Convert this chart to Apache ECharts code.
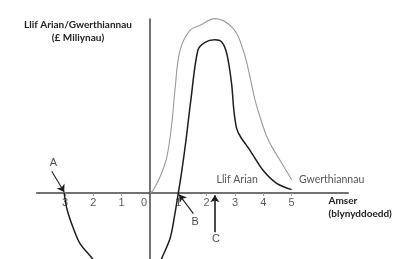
<!DOCTYPE html>
<html><head><meta charset="utf-8">
<script src="https://cdn.jsdelivr.net/npm/echarts@6/dist/echarts.min.js"></script>
<style>html,body{margin:0;padding:0;background:#fff}#c{width:404px;height:259px}</style>
</head><body><div id="c"></div>
<script>
// Sales (Gwerthiannau) curve: time (years), value (£ millions, arbitrary units)
const salesT = [0, 0.11, 0.35, 0.59, 0.77, 0.88, 1.06, 1.41, 1.77, 2.29, 2.94, 3.29, 3.53, 3.71, 3.94, 4.18, 4.59, 5.0];
const salesV = [0, 0.27, 1.6, 3.57, 6.97, 10.27, 14.27, 16.27, 16.77, 17.44, 16.44, 14.27, 11.6, 9.27, 7.1, 5.27, 3.27, 1.34];
// Cash flow (Llif Arian) curve, left part (before launch) and right part
const cashLeftT = [-3.03, -2.92, -2.68, -2.47, -2.06, -1.85];
const cashLeftV = [0, -1.73, -3.73, -5.06, -6.48, -7.3];
const cashRightT = [0.30, 0.41, 0.71, 0.88, 1.0, 1.11, 1.27, 1.44, 1.69, 1.94, 2.29, 2.53, 2.71, 2.88, 2.96, 3.06, 3.2, 3.53, 3.99, 4.47, 5.0];
const cashRightV = [-7.3, -6.56, -4.53, -2.06, 0, 1.97, 5.27, 9.27, 14.27, 15.07, 15.32, 15.1, 13.94, 10.94, 8.27, 6.44, 5.6, 4.27, 2.27, 0.97, 0.34];
// Axis tick labels
const tickValues = [-3, -2, -1, 0, 1, 2, 3, 4, 5];
const tickMarks = [-3, -2, -1, 1, 2, 3, 4, 5];
// Annotations (A, B, C)
const annLabels = ['A', 'B', 'C'];
const annFrom = [[-3.47, 2.17], [1.53, -2.06], [2.29, -3.93]];
const annTo = [[-3.03, 0.1], [1.03, -0.16], [2.29, -0.23]];
const annPos = [[-3.41, 3.04], [1.59, -2.9], [2.33, -4.61]];

const zip = (a, b) => a.map((v, i) => [v, b[i]]);

const chart = echarts.init(document.getElementById('c'), null, {renderer: 'canvas'});
chart.setOption({
  animation: false,
  grid: {left: 36.7, right: 55.7, top: 19, bottom: 0, containLabel: false, outerBoundsMode: 'none'},
  xAxis: {
    type: 'value', min: -4, max: 7,
    axisLine: {onZero: true, lineStyle: {color: '#444', width: 1.5}},
    splitLine: {show: false},
    axisTick: {show: true, customValues: tickMarks, length: 3, lineStyle: {color: '#999'}},
    axisLabel: {show: false}
  },
  yAxis: {
    type: 'value', min: -6.6, max: 17.4,
    axisLine: {show: true, onZero: true, lineStyle: {color: '#444', width: 1.5}},
    axisTick: {show: false}, axisLabel: {show: false}, splitLine: {show: false}
  },
  series: [
    {type: 'line', data: zip(salesT, salesV), smooth: 0.4, symbol: 'none', clip: false,
     lineStyle: {color: '#9a9a9a', width: 1.1}},
    {type: 'line', data: zip(cashLeftT, cashLeftV), smooth: 0.4, symbol: 'none', clip: true,
     lineStyle: {color: '#1e1e1e', width: 1.5}},
    {type: 'line', data: zip(cashRightT, cashRightV), smooth: 0.3, symbol: 'none', clip: true,
     lineStyle: {color: '#1e1e1e', width: 1.5},
     markLine: {
       silent: true, symbol: ['none', 'arrow'], symbolSize: 7, label: {show: false},
       data: annFrom.map((f, i) => [
         {coord: f, lineStyle: {color: '#1e1e1e', width: i === 2 ? 1.6 : 1.1, type: 'solid'}},
         {coord: annTo[i]}
       ])
     }},
    {type: 'scatter', symbolSize: 0, data: annPos.map((p, i) => ({value: p, name: annLabels[i]})),
     label: {show: true, position: 'inside', formatter: p => p.name, fontSize: 11, color: '#222', fontFamily: 'Liberation Sans'}},
    // x-axis tick labels placed on the zero line through the axis scale
    {type: 'scatter', symbolSize: 0, silent: true,
     data: tickValues.map(v => ({value: [v, 0], label: {offset: v === 0 ? [-6, 0] : [0, 0]}})),
     label: {show: true, position: 'bottom', distance: 4, formatter: p => String(Math.abs(p.value[0])),
             fontSize: 11, color: '#333', fontFamily: 'Liberation Sans'}}
  ],
  graphic: [
    {type: 'text', style: {text: 'Llif Arian/Gwerthiannau', x: 78, y: 25, align: 'center', verticalAlign: 'middle', fontSize: 10, fontWeight: 'bold', fontFamily: 'Lato', fill: '#222'}},
    {type: 'text', style: {text: '(£ Miliynau)', x: 78, y: 38, align: 'center', verticalAlign: 'middle', fontSize: 10, fontWeight: 'bold', fontFamily: 'Lato', fill: '#222'}},
    {type: 'text', style: {text: 'Amser', x: 328.5, y: 201, align: 'left', verticalAlign: 'middle', fontSize: 10, fontWeight: 'bold', fontFamily: 'Lato', fill: '#222'}},
    {type: 'text', style: {text: '(blynyddoedd)', x: 328.5, y: 213.5, align: 'left', verticalAlign: 'middle', fontSize: 10, fontWeight: 'bold', fontFamily: 'Lato', fill: '#222'}},
    {type: 'text', style: {text: 'Llif Arian', x: 216.5, y: 180, align: 'left', verticalAlign: 'middle', fontSize: 10.5, fontFamily: 'Lato', fill: '#555'}},
    {type: 'text', style: {text: 'Gwerthiannau', x: 299, y: 180, align: 'left', verticalAlign: 'middle', fontSize: 10.5, fontFamily: 'Lato', fill: '#555'}}
  ]
});
</script></body></html>
